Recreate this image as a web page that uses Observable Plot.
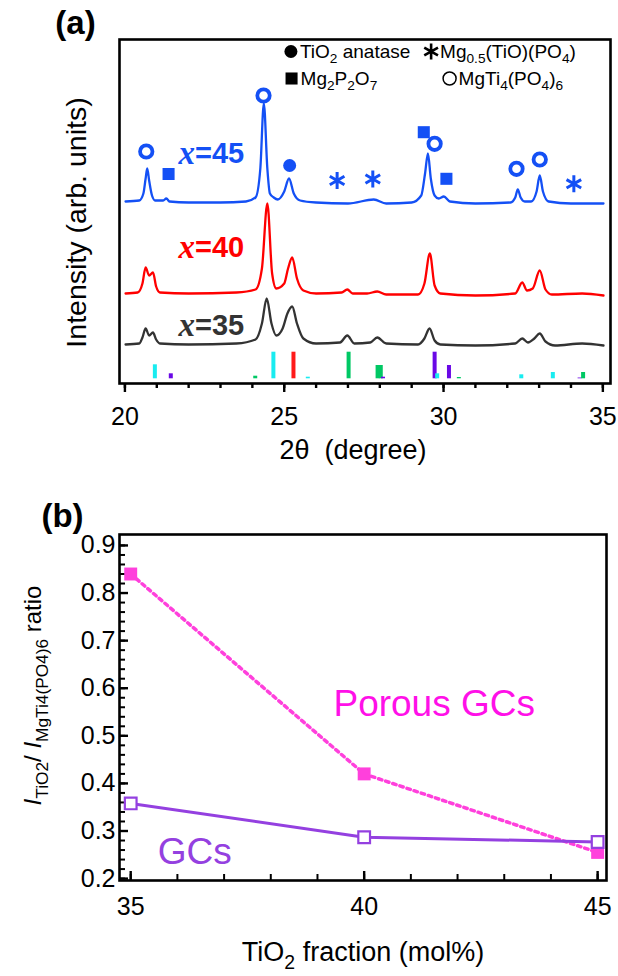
<!DOCTYPE html>
<html><head><meta charset="utf-8">
<script src="https://cdn.jsdelivr.net/npm/d3@7"></script>
<script src="https://cdn.jsdelivr.net/npm/@observablehq/plot@0.6"></script>
<style>
html,body{margin:0;padding:0;background:#fff;}
#chart{width:618px;}
#chart svg{display:block;}
</style></head><body><div id="chart"></div>
<script>
// ---------- Panel (a): XRD traces (2θ in degrees, intensity in arb. units) ----------
const angle45 = [20.02,20.45,20.58,20.65,20.70,20.76,20.85,20.95,21.2,21.3,21.4,22.0,23.0,23.8,24.1,24.25,24.36,24.47,24.55,24.67,24.8,25.0,25.15,25.3,25.5,26.0,27.0,27.81,28.2,29.0,29.3,29.42,29.51,29.6,29.72,29.85,30.01,30.2,31.0,32.1,32.25,32.33,32.42,32.55,32.75,32.92,33.02,33.12,33.3,34.0,35.02];
const int45   = [182,183,190,205,215,203,188,183,183,185,182,181,181,182,186,215,280,215,190,186,184,192,205,190,183,181,180,184,180,181,188,210,230,205,188,185,187,182,180,181,186,194,186,182,182,192,208,192,182,180,180];
const angle40 = [20.02,20.4,20.55,20.65,20.76,20.88,20.98,21.1,22.0,23.5,24.1,24.3,24.47,24.62,24.75,25.0,25.12,25.25,25.4,25.6,26.0,26.8,26.98,27.15,27.6,27.92,28.2,29.2,29.4,29.57,29.72,29.9,31.0,32.25,32.47,32.62,32.8,33.02,33.2,33.4,34.35,35.02];
const int40   = [90,91,100,116,108,111,97,91,90,91,94,115,180,110,95,100,115,126,105,93,90,91,94,90,90,92,89,89,100,130,98,90,88,90,101,93,95,113,94,89,90,88];
const angle35 = [20.02,20.45,20.55,20.65,20.76,20.88,20.98,21.1,22.0,23.5,24.1,24.3,24.45,24.6,24.75,24.95,25.1,25.25,25.4,25.6,26.0,26.75,26.98,27.2,27.7,27.92,28.2,29.2,29.4,29.56,29.72,29.9,31.0,32.25,32.47,32.65,32.85,33.02,33.2,33.5,34.35,35.02];
const int35   = [39,40,46,55,48,51,44,40,39,40,44,60,85,60,48,55,70,77,60,45,40,41,48,40,41,46,40,39,45,55,43,39,38,40,45,41,45,50,42,38,40,38];
const sampleNames = ["x=45", "x=40", "x=35"];
const sampleLabelLevel = [230, 136, 58];
const labelAngle = 22.2;

// reference stick patterns
const phaseNames = ["MgTi4(PO4)6", "TiO2 anatase", "Mg2P2O7", "Mg0.5(TiO)(PO4)"];
const refAngle  = [20.94,21.44,24.09,24.66,25.29,25.74,27.02,27.93,28.03,28.10,29.72,29.80,30.17,30.48,32.44,33.43,34.27,34.38];
const refHeight = [14,5,2.6,26.6,26.6,1.6,26.6,13.3,13.3,1.6,26.6,5,13.3,1.3,4,6.3,0.8,6.3];
const refPhase  = ["MgTi4(PO4)6","Mg2P2O7","Mg0.5(TiO)(PO4)","MgTi4(PO4)6","TiO2 anatase","MgTi4(PO4)6","Mg0.5(TiO)(PO4)","Mg0.5(TiO)(PO4)","Mg0.5(TiO)(PO4)","Mg2P2O7","Mg2P2O7","MgTi4(PO4)6","Mg2P2O7","Mg0.5(TiO)(PO4)","MgTi4(PO4)6","MgTi4(PO4)6","Mg2P2O7","Mg0.5(TiO)(PO4)"];
const refBaseline = 4.7;

// phase markers on the x=45 trace
const markAngle = [20.67,21.37,24.35,25.17,26.66,27.78,29.38,29.72,30.09,32.29,33.02,34.09];
const markLevel = [232,209.5,288,218,203,204.5,251.3,239.7,204.7,214.7,224,199.7];
const markPhase = ["MgTi4(PO4)6","Mg2P2O7","MgTi4(PO4)6","TiO2 anatase","Mg0.5(TiO)(PO4)","Mg0.5(TiO)(PO4)","Mg2P2O7","MgTi4(PO4)6","Mg2P2O7","MgTi4(PO4)6","MgTi4(PO4)6","Mg0.5(TiO)(PO4)"];

// legend (phase key inside panel a)
const keyPhase = ["TiO2 anatase", "Mg0.5(TiO)(PO4)", "Mg2P2O7", "MgTi4(PO4)6"];
const keyLabel = ["TiO_{2} anatase", "Mg_{0.5}(TiO)(PO_{4})", "Mg_{2}P_{2}O_{7}", "MgTi_{4}(PO_{4})_{6}"];
const keyAngle = [25.21, 29.61, 25.23, 30.19];
const keyLevel = [332, 332, 305, 305];

const xTicksA = [20, 25, 30, 35];
const xMinorA = d3.range(20, 36, 1);

// ---------- Panel (b) ----------
const fraction = [35, 40, 45];
const porousRatio = [0.84, 0.42, 0.255];
const gcRatio = [0.358, 0.287, 0.277];
const xTicksB = [35, 40, 45];
const xMinorB = d3.range(35, 46, 1);
const yTicksB = [0.2, 0.3, 0.4, 0.5, 0.6, 0.7, 0.8, 0.9];
const yMinorB = d3.range(0.2, 0.9001, 0.02);

// ---------- build tables ----------
const FONT = "'Liberation Sans', Arial, sans-serif";
const trace = (ang, inten, s) => ang.map((a, i) => ({angle: a, intensity: inten[i], sample: s}));
const traces = [trace(angle45, int45, "x=45"), trace(angle40, int40, "x=40"), trace(angle35, int35, "x=35")];
const refs = refAngle.map((a, i) => ({angle: a, height: refHeight[i], phase: refPhase[i]}));
const marks45 = markAngle.map((a, i) => ({angle: a, level: markLevel[i], phase: markPhase[i]}));
const keys = keyPhase.map((p, i) => ({phase: p, label: keyLabel[i], angle: keyAngle[i], level: keyLevel[i]}));
const sampleLabels = sampleNames.map((s, i) => ({label: s, level: sampleLabelLevel[i], angle: labelAngle}));
const traceColor = ["#1450f5", "#ff0000", "#333333"];

function phaseDots(data, color, lw) {
  return [
    Plot.dot(data.filter(d => d.phase === "MgTi4(PO4)6"), {x: "angle", y: "level", r: lw ? 6.2 : 6.5, stroke: color, strokeWidth: lw ? 3.8 : 1.5, fill: "none"}),
    Plot.dot(data.filter(d => d.phase === "TiO2 anatase"), {x: "angle", y: "level", r: 6.5, fill: color, stroke: "none"}),
    Plot.dot(data.filter(d => d.phase === "Mg2P2O7"), {x: "angle", y: "level", symbol: "square", r: 6.8, fill: color, stroke: "none"}),
    Plot.dot(data.filter(d => d.phase === "Mg0.5(TiO)(PO4)"), {x: "angle", y: "level", symbol: "asterisk", r: lw ? 8 : 7.5, stroke: color, strokeWidth: lw ? 3 : 2.6})
  ];
}

const plotA = Plot.plot({
  width: 618, height: 476,
  marginLeft: 119, marginRight: 8, marginTop: 39, marginBottom: 93,
  x: {domain: [19.83, 35.24]},
  y: {domain: [0, 344], axis: null},
  color: {domain: phaseNames, range: ["#19ecf0", "#ff1a1a", "#6a08e6", "#00c864"]},
  style: {fontFamily: FONT, color: "black", background: "white"},
  marks: [
    Plot.ruleX(refs, {x: "angle", y1: () => refBaseline, y2: d => refBaseline + d.height, stroke: "phase", strokeWidth: 4}),
    ...traces.map((t, i) => Plot.line(t, {x: "angle", y: "intensity", stroke: traceColor[i], strokeWidth: 2.3, curve: "monotone-x"})),
    ...phaseDots(marks45, "#1450f5", true),
    ...phaseDots(keys, "black", false),
    Plot.text(keys, {x: "angle", y: "level", text: "label", textAnchor: "start", dx: 9, fontSize: 19}),
    ...sampleLabels.map((d, i) => Plot.text([d], {x: "angle", y: "level", text: d => d.label.slice(0, 1), textAnchor: "end", fontFamily: "'Liberation Serif', serif", fontStyle: "italic", fontWeight: "bold", fontSize: 33, fill: traceColor[i]})),
    ...sampleLabels.map((d, i) => Plot.text([d], {x: "angle", y: "level", text: d => d.label.slice(1), textAnchor: "start", fontWeight: "bold", fontSize: 29, fill: traceColor[i]})),
    Plot.frame({stroke: "black", strokeWidth: 2.6}),
    Plot.axisX({ticks: xMinorA, tickSize: 5, tickFormat: () => "", strokeWidth: 2.4, label: null}),
    Plot.axisX({ticks: xTicksA, tickSize: 9, tickPadding: 15, fontSize: 25, strokeWidth: 2.4, label: null, tickFormat: d => String(d)}),
    Plot.text(["2θ\u00a0\u00a0(degree)"], {frameAnchor: "bottom", textAnchor: "middle", lineAnchor: "middle", dx: -12, dy: 67, fontSize: 27, text: d => d}),
    Plot.text(["Intensity (arb. units)"], {frameAnchor: "left", textAnchor: "middle", lineAnchor: "middle", rotate: -90, dx: -43, dy: 11, fontSize: 28.5, text: d => d}),
    Plot.text(["(a)"], {frameAnchor: "top-left", textAnchor: "middle", lineAnchor: "middle", dx: -44, dy: -16, fontSize: 33, fontWeight: "bold", text: d => d})
  ]
});

const frameHB = 500 - 58 - 96, frameWB = 618 - 119 - 12;
const porous = fraction.map((f, i) => ({f, r: porousRatio[i]}));
const gcs = fraction.map((f, i) => ({f, r: gcRatio[i]}));
const PINK = "#ff40dc", PURPLE = "#9440e0";

const plotB = Plot.plot({
  width: 618, height: 500,
  marginLeft: 119, marginRight: 12, marginTop: 58, marginBottom: 96,
  x: {domain: [34.76, 45.19]},
  y: {domain: [0.196, 0.923]},
  style: {fontFamily: FONT, color: "black", background: "white"},
  marks: [
    Plot.ruleX(xMinorB, {x: d => d, insetTop: frameHB - 6, strokeWidth: 2}),
    Plot.ruleX(xTicksB, {x: d => d, insetTop: frameHB - 9, strokeWidth: 2.4}),
    Plot.ruleY(yMinorB, {y: d => d, insetRight: frameWB - 6, strokeWidth: 2}),
    Plot.ruleY(yTicksB, {y: d => d, insetRight: frameWB - 9, strokeWidth: 2.4}),
    Plot.axisX({ticks: xTicksB, tickSize: 0, tickPadding: 17, fontSize: 25, label: null, tickFormat: d => String(d)}),
    Plot.axisY({ticks: yTicksB, tickSize: 0, tickPadding: 4, fontSize: 25, label: null, tickFormat: d3.format(".1f")}),
    Plot.frame({stroke: "black", strokeWidth: 2.6}),
    Plot.line(porous, {x: "f", y: "r", stroke: PINK, strokeWidth: 3.5, strokeDasharray: "3.5,4"}),
    Plot.dot(porous, {x: "f", y: "r", symbol: "square", r: 7.3, fill: PINK, stroke: "none"}),
    Plot.line(gcs, {x: "f", y: "r", stroke: PURPLE, strokeWidth: 3}),
    Plot.dot(gcs, {x: "f", y: "r", symbol: "square", r: 6.6, stroke: PURPLE, strokeWidth: 2.2, fill: "white"}),
    Plot.text(["Porous GCs"], {x: () => 41.5, y: () => 0.567, fontSize: 37, fill: "#ff10e8", text: d => d}),
    Plot.text(["GCs"], {x: () => 36.37, y: () => 0.255, fontSize: 37, fill: PURPLE, text: d => d}),
    Plot.text(["TiO_{2} fraction (mol%)"], {frameAnchor: "bottom", textAnchor: "middle", lineAnchor: "middle", dy: 72, fontSize: 27, text: d => d}),
    Plot.text(["~{I}_{TiO2}/ ~{I}_{MgTi4(PO4)6} ratio"], {frameAnchor: "left", textAnchor: "middle", lineAnchor: "middle", rotate: -90, dx: -86, dy: -12, fontSize: 24, text: d => d}),
    Plot.text(["(b)"], {frameAnchor: "top-left", textAnchor: "middle", lineAnchor: "middle", dx: -57, dy: -18, fontSize: 33, fontWeight: "bold", text: d => d})
  ]
});

const chart = document.getElementById("chart");
chart.append(plotA, plotB);

// rich text: _{...} subscript, ~{...} italic
function richify(svg) {
  const ns = "http://www.w3.org/2000/svg";
  svg.querySelectorAll("text").forEach(t => {
    const s = t.textContent;
    if (!/[_~]\{/.test(s)) return;
    const fs = parseFloat(getComputedStyle(t).fontSize);
    const parts = s.split(/(_\{[^}]*\}|~\{[^}]*\})/).filter(p => p.length);
    t.textContent = "";
    let shift = 0;
    for (const p of parts) {
      const ts = document.createElementNS(ns, "tspan");
      if (p.startsWith("_{")) {
        const want = fs * 0.3;
        ts.setAttribute("font-size", (fs * 0.72).toFixed(2));
        ts.setAttribute("dy", (want - shift).toFixed(2));
        shift = want;
        ts.textContent = p.slice(2, -1);
      } else {
        if (shift) ts.setAttribute("dy", (-shift).toFixed(2));
        shift = 0;
        if (p.startsWith("~{")) { ts.setAttribute("font-style", "italic"); ts.textContent = p.slice(2, -1); }
        else ts.textContent = p;
      }
      t.appendChild(ts);
    }
  });
}
richify(plotA); richify(plotB);
</script>
</body></html>
